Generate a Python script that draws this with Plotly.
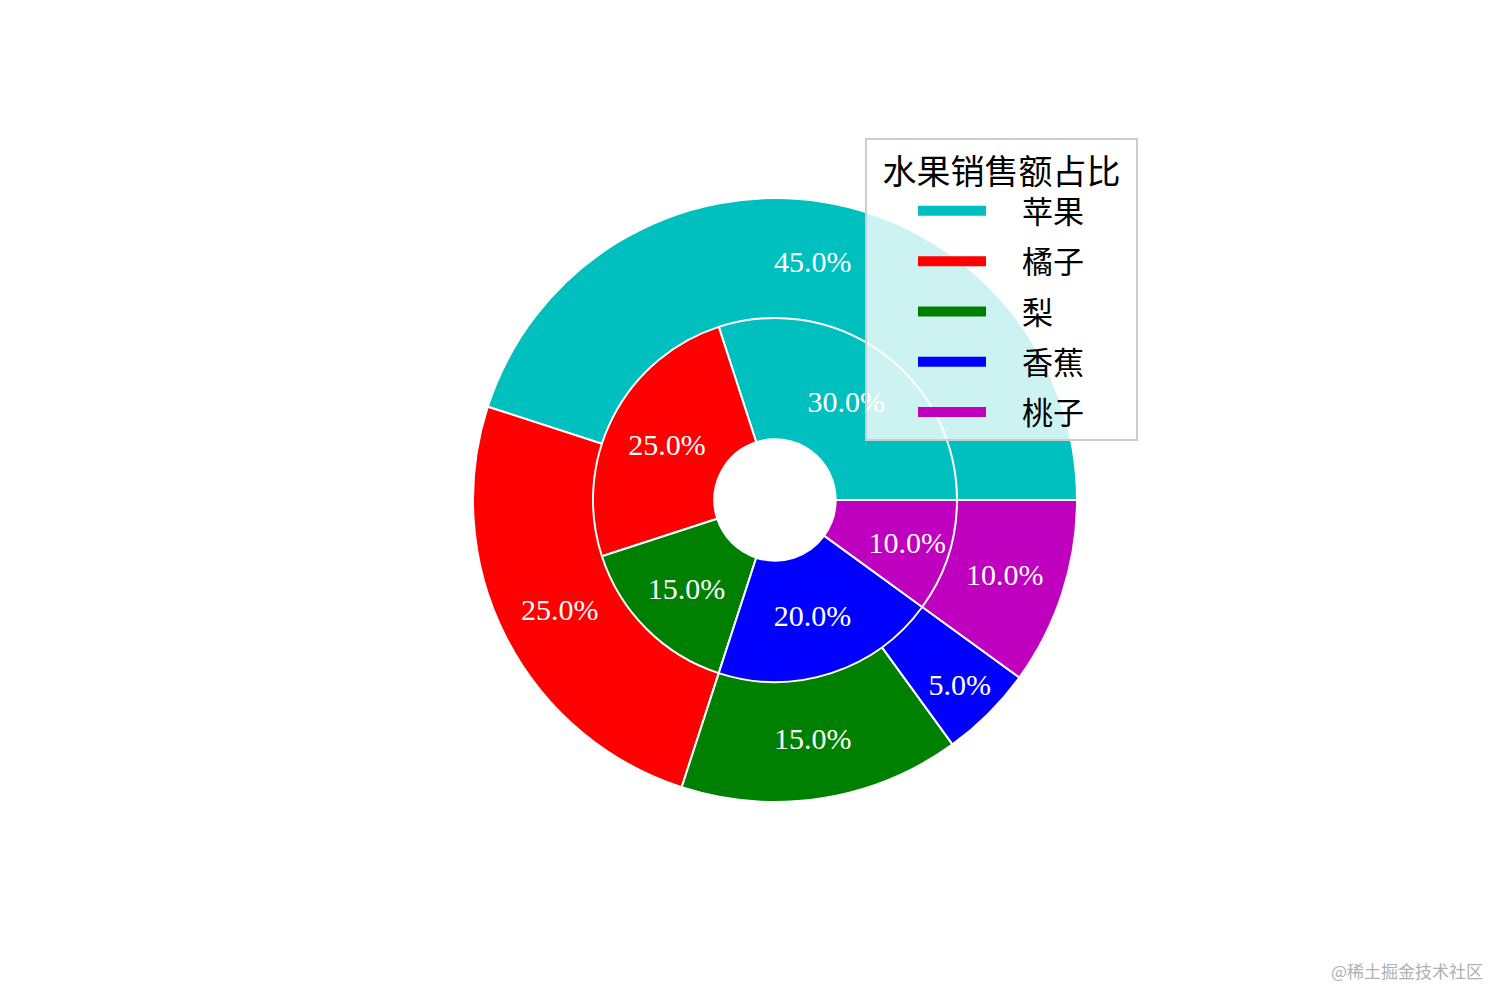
import plotly.graph_objects as go

labels = ['苹果', '橘子', '梨', '香蕉', '桃子']
outer_values = [45, 25, 15, 5, 10]
inner_values = [30, 25, 15, 20, 10]
colors = ['#00BFBF', '#FF0000', '#008000', '#0000FF', '#BF00BF']

W, H = 1512, 1008
cx, cy = 767, 492          # pie centre in pixels (from top-left of the figure)
r_outer, r_inner = 302, 182


def domain(r):
    return dict(
        x=[(cx - r) / W, (cx + r) / W],
        y=[(H - cy - r) / H, (H - cy + r) / H],
    )


def ring(values, r, hole):
    # plotly puts the first slice clockwise of `rotation` when going
    # counterclockwise, so shift by its size to start at 3 o'clock like mpl
    rotation = 90 - 360 * values[0] / sum(values)
    return go.Pie(
        labels=labels,
        values=values,
        domain=domain(r),
        hole=hole,
        sort=False,
        direction='counterclockwise',
        rotation=rotation,
        marker=dict(colors=colors, line=dict(color='white', width=2)),
        texttemplate='%{percent:.1%}',
        textposition='inside',
        insidetextorientation='horizontal',
        textfont=dict(family='Liberation Serif', size=30, color='white'),
        showlegend=False,
        hoverinfo='label+percent',
    )


fig = go.Figure()
fig.add_trace(ring(outer_values, r_outer, 0.6))
fig.add_trace(ring(inner_values, r_inner, 1 / 3))

# legend entries with wide colour patches, like matplotlib
for name, color in zip(labels, colors):
    fig.add_trace(go.Scatter(
        x=[None], y=[None], mode='lines',
        line=dict(color=color, width=20),
        name='\u3000' + name + '\u3000\u2002',
        legendgroup=name, showlegend=True,
    ))

fig.update_xaxes(visible=False)
fig.update_yaxes(visible=False)

fig.update_layout(
    width=W,
    height=H,
    margin=dict(l=0, r=0, t=0, b=0),
    paper_bgcolor='white',
    plot_bgcolor='rgba(0,0,0,0)',
    uniformtext=dict(minsize=30, mode='show'),
    legend=dict(
        x=857 / W,
        y=1 - 130 / H,
        xanchor='left',
        yanchor='top',
        bgcolor='rgba(255,255,255,0.8)',
        bordercolor='#cccccc',
        borderwidth=2,
        font=dict(family='Noto Sans CJK SC', size=31, color='black'),
        title=dict(text='水果销售额占比', side='top center',
                   font=dict(family='Noto Sans CJK SC', size=34, color='black')),
        traceorder='grouped',
        itemwidth=68,
        tracegroupgap=7,
        indentation=46,
    ),
    annotations=[
        dict(
            text='@稀土掘金技术社区',
            x=1477 / W, y=1 - 962 / H,
            xref='paper', yref='paper',
            xanchor='right', yanchor='middle',
            showarrow=False,
            font=dict(family='Noto Sans CJK SC', size=17, color='#b0b0b0'),
        )
    ],
)

fig.write_html('out.html')
